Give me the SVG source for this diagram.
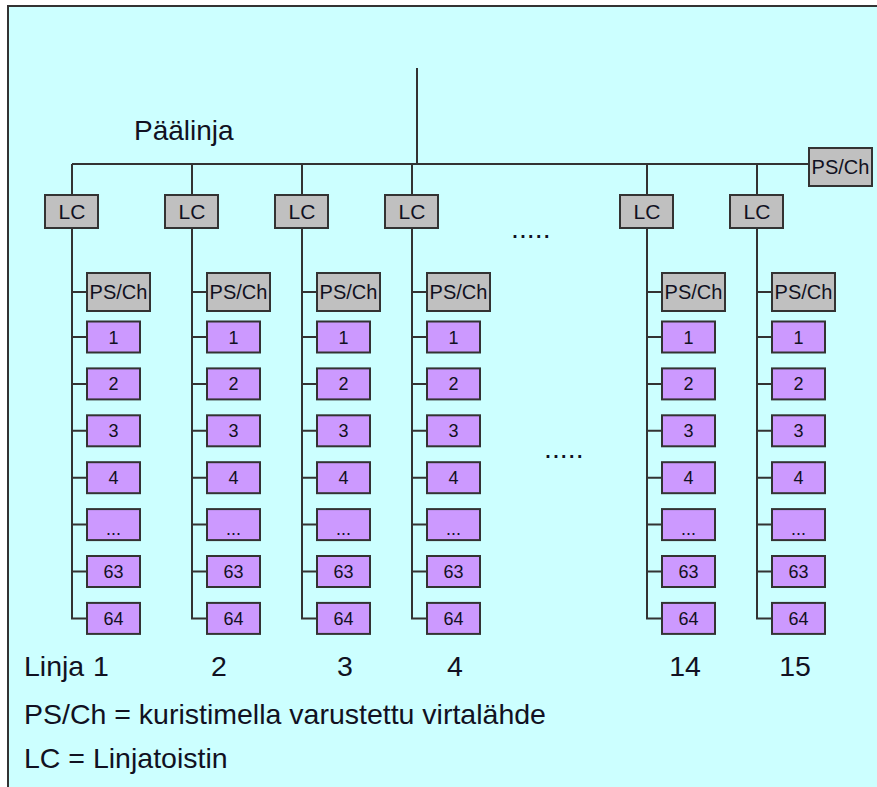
<svg xmlns="http://www.w3.org/2000/svg" width="877" height="787" viewBox="0 0 877 787">
<style>
.bg{fill:#CCFFFF;stroke:#333;stroke-width:2}
.ln{fill:none;stroke:#333;stroke-width:2}
.g{fill:#C0C0C0;stroke:#333;stroke-width:2}
.p{fill:#CC99FF;stroke:#333;stroke-width:2}
text{font-family:"Liberation Sans",Arial,sans-serif;fill:#111122}
.bt{font-size:20px;text-anchor:middle}
.nt{font-size:18px;text-anchor:middle}
.big{font-size:28.5px}
.mid{text-anchor:middle}
</style>
<defs>
<g id="col">
<rect class="g" x="-27" y="195" width="53" height="33"/>
<text class="bt" x="0" y="219" style="font-size:21px">LC</text>
<rect class="g" x="15" y="273" width="63" height="38"/>
<text class="bt" x="46.5" y="299">PS/Ch</text>
<rect class="p" x="15" y="321.5" width="53" height="31"/><text class="nt" x="41.5" y="343.5">1</text>
<rect class="p" x="15" y="368.4" width="53" height="31"/><text class="nt" x="41.5" y="390.4">2</text>
<rect class="p" x="15" y="415.3" width="53" height="31"/><text class="nt" x="41.5" y="437.3">3</text>
<rect class="p" x="15" y="462.2" width="53" height="31"/><text class="nt" x="41.5" y="484.2">4</text>
<rect class="p" x="15" y="509.1" width="53" height="31"/><text class="nt" x="41.5" y="534.5">...</text>
<rect class="p" x="15" y="556" width="53" height="31"/><text class="nt" x="41.5" y="578">63</text>
<rect class="p" x="15" y="602.9" width="53" height="31"/><text class="nt" x="41.5" y="624.9">64</text>
</g>
<path id="colln" class="ln" d="M0 228V618.4H15M0 292H15M0 337H15M0 383.9H15M0 430.8H15M0 477.7H15M0 524.6H15M0 571.5H15"/>
</defs>
<rect class="bg" x="8" y="6" width="900" height="900"/>
<g id="connectors">
<path class="ln" d="M417 68V164M72 164H809M72 164V195M192 164V195M302 164V195M412 164V195M647 164V195M757 164V195"/>
<use href="#colln" x="72"/>
<use href="#colln" x="192"/>
<use href="#colln" x="302"/>
<use href="#colln" x="412"/>
<use href="#colln" x="647"/>
<use href="#colln" x="757"/>
</g>
<g id="ps-main">
<rect class="g" x="809" y="148" width="63" height="38"/>
<text class="bt" x="840.5" y="174">PS/Ch</text>
</g>
<g id="line1"><use href="#col" x="72"/></g>
<g id="line2"><use href="#col" x="192"/></g>
<g id="line3"><use href="#col" x="302"/></g>
<g id="line4"><use href="#col" x="412"/></g>
<g id="line14"><use href="#col" x="647"/></g>
<g id="line15"><use href="#col" x="757"/></g>
<text x="134" y="140" style="font-size:28px">Päälinja</text>
<text x="511" y="238" class="big">.....</text>
<text x="544" y="458" class="big">.....</text>
<text x="24" y="676" class="big">Linja</text>
<text x="101" y="676" class="big mid">1</text>
<text x="219" y="676" class="big mid">2</text>
<text x="345" y="676" class="big mid">3</text>
<text x="455" y="676" class="big mid">4</text>
<text x="685" y="676" class="big mid">14</text>
<text x="795" y="676" class="big mid">15</text>
<text x="24" y="724" class="big">PS/Ch = kuristimella varustettu virtalähde</text>
<text x="24" y="768" class="big">LC = Linjatoistin</text>
</svg>
